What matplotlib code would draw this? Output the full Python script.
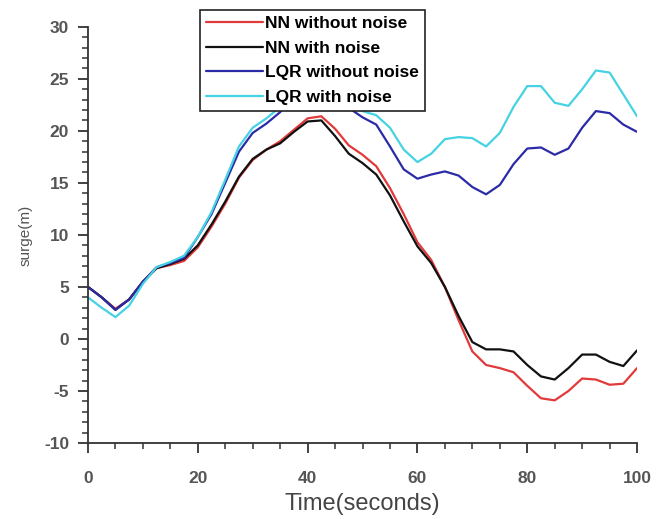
import numpy as np
import matplotlib
matplotlib.use('Agg')
import matplotlib.pyplot as plt
from matplotlib.ticker import MultipleLocator

plt.rcParams['font.family'] = ['Liberation Sans', 'DejaVu Sans']
plt.rcParams['axes.unicode_minus'] = False

# time axis (s), sampled every 2.5 s
t = [0, 2.5, 5, 7.5, 10, 12.5, 15, 17.5, 20, 22.5, 25, 27.5, 30, 32.5, 35,
     37.5, 40, 42.5, 45, 47.5, 50, 52.5, 55, 57.5, 60, 62.5, 65, 67.5, 70,
     72.5, 75, 77.5, 80, 82.5, 85, 87.5, 90, 92.5, 95, 97.5, 100]

nn_clean = [5.0, 4.0, 2.9, 3.8, 5.5, 6.8, 7.1, 7.5, 8.8, 10.8, 13.0, 15.5,
            17.2, 18.2, 19.0, 20.1, 21.2, 21.4, 20.2, 18.6, 17.7, 16.6, 14.5,
            12.0, 9.3, 7.6, 5.0, 1.8, -1.2, -2.5, -2.8, -3.2, -4.5, -5.7,
            -5.9, -5.0, -3.8, -3.9, -4.4, -4.3, -2.8]

nn_noise = [5.0, 4.0, 2.8, 3.8, 5.5, 6.8, 7.2, 7.7, 9.0, 11.0, 13.2, 15.6,
            17.3, 18.2, 18.8, 19.9, 20.9, 21.0, 19.5, 17.8, 16.9, 15.8, 13.8,
            11.3, 8.9, 7.3, 5.0, 2.2, -0.3, -1.0, -1.0, -1.2, -2.5, -3.6,
            -3.9, -2.8, -1.5, -1.5, -2.2, -2.6, -1.1]

lqr_clean = [5.0, 4.0, 2.8, 3.8, 5.5, 6.9, 7.3, 7.8, 9.8, 12.0, 15.0, 18.0,
             19.8, 20.7, 21.8, 23.3, 24.0, 24.2, 23.5, 22.2, 21.3, 20.6,
             18.5, 16.3, 15.4, 15.8, 16.1, 15.7, 14.6, 13.9, 14.8, 16.8,
             18.3, 18.4, 17.7, 18.3, 20.3, 21.9, 21.7, 20.6, 19.9]

lqr_noise = [4.0, 3.0, 2.1, 3.2, 5.3, 6.9, 7.4, 8.0, 9.8, 12.2, 15.3, 18.5,
             20.3, 21.2, 22.3, 24.0, 24.6, 24.8, 24.0, 22.8, 21.9, 21.5,
             20.3, 18.2, 17.0, 17.8, 19.2, 19.4, 19.3, 18.5, 19.8, 22.3,
             24.3, 24.3, 22.7, 22.4, 24.0, 25.8, 25.6, 23.5, 21.4]

fig = plt.figure(figsize=(6.68, 5.19), dpi=100)
ax = fig.add_axes([0.1317, 0.1464, 0.822, 0.802])

style = dict(lw=1.6, solid_joinstyle='round', solid_capstyle='round')
ax.plot(t, nn_clean, color='#e23a3a', label='NN without noise', **style)
ax.plot(t, nn_noise, color='#111111', label='NN with noise', **style)
ax.plot(t, lqr_clean, color='#2b2ba8', label='LQR without noise', **style)
ax.plot(t, lqr_noise, color='#45d3e3', label='LQR with noise', **style)

ax.set_xlim(0, 100)
ax.set_ylim(-10, 30)
ax.xaxis.set_major_locator(MultipleLocator(20))
ax.xaxis.set_minor_locator(MultipleLocator(5))
ax.yaxis.set_major_locator(MultipleLocator(5))
ax.yaxis.set_minor_locator(MultipleLocator(1))

for side in ['top', 'right']:
    ax.spines[side].set_visible(False)
for side in ['left', 'bottom']:
    ax.spines[side].set_color('#333333')
    ax.spines[side].set_linewidth(1.3)

ax.tick_params(which='major', direction='out', length=7.5, width=1.3,
               color='#333333', labelsize=12.5, labelcolor='#555555')
ax.tick_params(which='minor', direction='out', length=4, width=1.1,
               color='#333333')
ax.tick_params(axis='x', which='major', pad=13)
ax.tick_params(axis='y', which='major', pad=6)
for lab in ax.get_xticklabels() + ax.get_yticklabels():
    lab.set_fontweight('bold')

ax.set_xlabel('Time(seconds)', fontsize=17, color='#444444', labelpad=5)
ax.set_ylabel('surge(m)', fontsize=11, color='#555555', labelpad=8)

leg = ax.legend(loc='upper left', bbox_to_anchor=(0.204, 1.041),
                prop={'weight': 'bold', 'size': 12.5}, frameon=True,
                fancybox=False, handlelength=3.3, handletextpad=0.1,
                labelspacing=0.55, borderpad=0.35, borderaxespad=0)
leg.get_frame().set_edgecolor('#222222')
leg.get_frame().set_linewidth(1.2)
leg.get_frame().set_alpha(1.0)

fig.savefig('out.png', dpi=100)
